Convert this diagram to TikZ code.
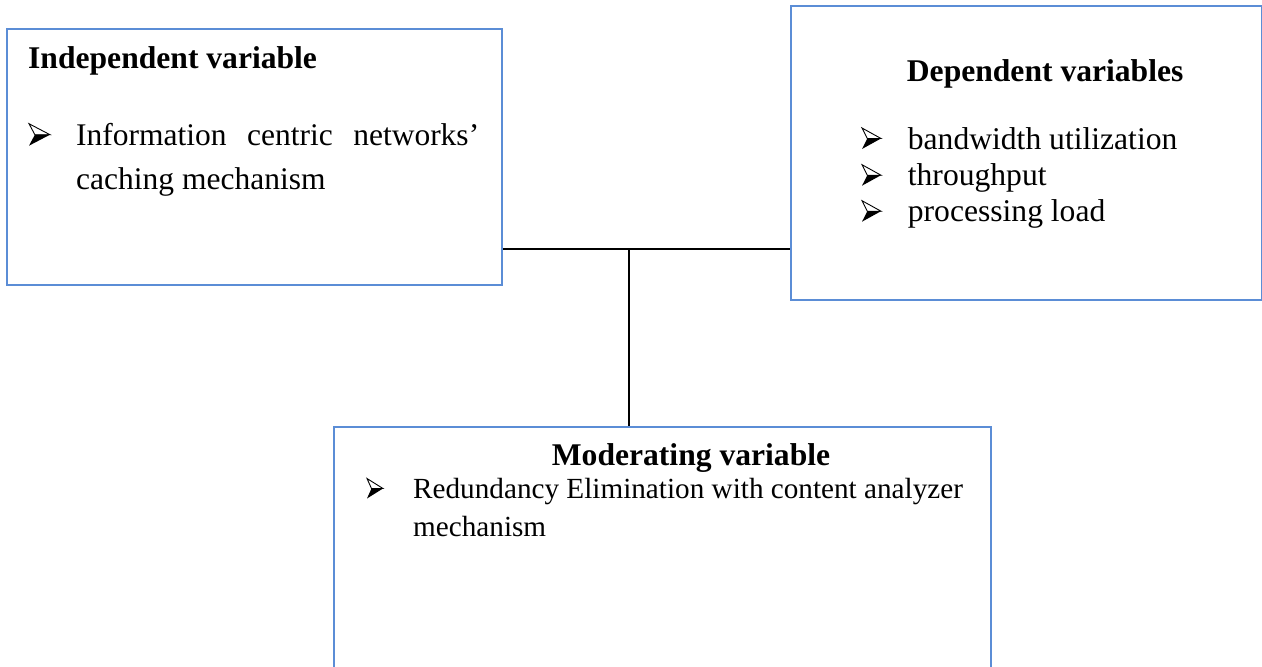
\documentclass[tikz,border=0pt]{standalone}
\usepackage{fontspec}
\setmainfont{Liberation Serif}
\definecolor{boxblue}{RGB}{91,141,214}

% Wingdings-style 3D arrowhead bullet: #1,#2 = left/bottom corner, #3 = width, #4 = height
\newcommand{\arrowbullet}[4]{%
  \coordinate (abA) at (#1,#2-#4);
  \coordinate (abB) at (#1+#3,#2-#4/2);
  \coordinate (abC) at (#1+0.28*#3,#2-#4/2);
  \coordinate (abD) at (#1,#2);
  \draw[black, line width=0.9pt, line join=miter] (abA) -- (abB) -- (abC) -- cycle;
  \fill[black] (abC) -- (abB) -- (abD) -- cycle;
}

\tikzset{
  varbox/.style={draw=boxblue, line width=2pt, anchor=north west, inner sep=0pt},
  link/.style={draw=black, line width=1.6pt},
  head/.style={anchor=base west, inner sep=0pt, font=\fontsize{31.6}{38}\selectfont\bfseries},
  % multi-line texts are placed by the baseline of their last line
  body/.style={anchor=base west, inner sep=0pt, align=left},
}

\begin{document}
\begin{tikzpicture}[x=1pt, y=-1pt]
  \useasboundingbox (0,0) rectangle (1262,667);
  \clip (0,0) rectangle (1262,667);

  % variable boxes
  \node[varbox, minimum width=495pt, minimum height=256pt] (ind) at (6,28) {};
  \node[varbox, minimum width=471pt, minimum height=294pt] (dep) at (790,5) {};
  \node[varbox, minimum width=657pt, minimum height=270pt] (mod) at (333,426) {};

  % connectors
  \coordinate (junction) at (629,249);
  \draw[link] (ind.east |- junction) -- (dep.west |- junction);
  \draw[link] (junction) -- (mod.north -| junction);

  % independent variable
  \node[head] (indhead) at (28,68) {Independent variable};
  \arrowbullet{29}{145.7}{21}{22}
  \node[body, font=\fontsize{31.5}{43.3}\selectfont] (indtext) at (76,189)
    {\makebox[403pt][s]{Information centric networks’}\\caching mechanism};

  % dependent variables
  \node[head] (dephead) at (906.7,81.7) {Dependent variables};
  \arrowbullet{862}{149}{19}{21}
  \arrowbullet{862}{185.7}{19}{21}
  \arrowbullet{862}{221.7}{19}{21}
  \node[body, font=\fontsize{31.6}{36.3}\selectfont] (deptext) at (907.7,221.7)
    {bandwidth utilization\\throughput\\processing load};

  % moderating variable
  \node[head] (modhead) at (551.7,465) {Moderating variable};
  \arrowbullet{367}{498.5}{16}{20}
  \node[body, font=\fontsize{29.2}{38.7}\selectfont] (modtext) at (413,536.7)
    {Redundancy Elimination with content analyzer\\mechanism};
\end{tikzpicture}
\end{document}
